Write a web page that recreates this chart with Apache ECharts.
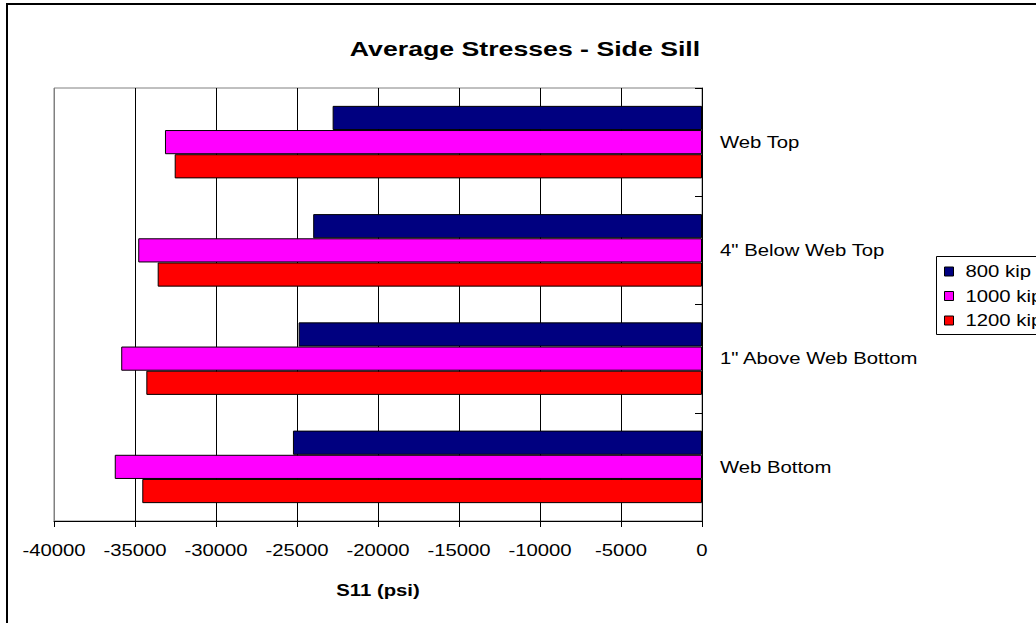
<!DOCTYPE html>
<html>
<head>
<meta charset="utf-8">
<title>Average Stresses - Side Sill</title>
<script src="https://cdn.jsdelivr.net/npm/echarts@6/dist/echarts.min.js"></script>
<style>
  html, body { margin: 0; padding: 0; background: #fff; }
  #chart { width: 1036px; height: 623px; }
</style>
</head>
<body>
<div id="chart"></div>
<script>
// Section locations along the side sill, top to bottom
const categories = ['Web Top', '4" Below Web Top', '1" Above Web Bottom', 'Web Bottom'];

// Average S11 stress (psi) per load case
const seriesNames = ['800 kip', '1000 kip', '1200 kip'];
const load800 = [-22800, -24000, -24900, -25250];
const load1000 = [-33150, -34800, -35850, -36250];
const load1200 = [-32550, -33600, -34300, -34550];

const xTicks = { min: -40000, max: 0, interval: 5000 };

const FONT = 'Arial, "Liberation Sans", Helvetica, sans-serif';
// horizontal widening applied to every text glyph
const TEXT_STRETCH = 1.27;

const colors = ['#000080', '#FF00FF', '#FF0000'];
const values = [load800, load1000, load1200];

const series = seriesNames.map((name, i) => ({
  name,
  type: 'bar',
  data: values[i],
  barGap: '0%',
  barCategoryGap: '33%',
  silent: true,
  itemStyle: { color: colors[i], borderColor: '#000', borderWidth: 1 }
}));

const option = {
  backgroundColor: '#fff',
  animation: false,
  title: {
    text: 'Average Stresses - Side Sill',
    left: 520,
    top: 33,
    textAlign: 'center',
    textStyle: { fontFamily: FONT, fontSize: 21, fontWeight: 'bold', color: '#000' }
  },
  legend: {
    orient: 'vertical',
    left: 944,
    top: 263,
    padding: 0,
    itemWidth: 9,
    itemHeight: 9,
    itemGap: 7.5,
    icon: 'rect',
    selectedMode: false,
    itemStyle: { borderColor: '#000', borderWidth: 1 },
    textStyle: { fontFamily: FONT, fontSize: 16, lineHeight: 17, color: '#000', padding: [0, 0, 0, 7] },
    data: seriesNames
  },
  grid: {
    left: 54,
    right: 334,
    top: 88,
    bottom: 102,
    show: true,
    borderColor: '#808080',
    borderWidth: 1,
    outerBoundsMode: 'none'
  },
  xAxis: {
    type: 'value',
    min: xTicks.min,
    max: xTicks.max,
    interval: xTicks.interval,
    name: 'S11 (psi)',
    nameLocation: 'middle',
    nameGap: 61,
    nameTextStyle: { fontFamily: FONT, fontSize: 16, fontWeight: 'bold', color: '#000' },
    axisLine: { show: true, lineStyle: { color: '#000', width: 1 } },
    axisTick: { show: true, length: 6, lineStyle: { color: '#000' } },
    axisLabel: {
      margin: 21,
      fontFamily: FONT,
      fontSize: 16,
      color: '#000',
      formatter: v => String(v)
    },
    splitLine: {
      show: true,
      lineStyle: { color: ['#808080', '#000', '#000', '#000', '#000', '#000', '#000', '#000', '#000'], width: 1 }
    }
  },
  yAxis: {
    type: 'category',
    data: categories,
    inverse: true,
    position: 'right',
    axisLine: { show: true, onZero: false, lineStyle: { color: '#000', width: 1 } },
    axisTick: { show: true, inside: true, length: 7, lineStyle: { color: '#000' } },
    axisLabel: { margin: 18, fontFamily: FONT, fontSize: 16, color: '#000' },
    splitLine: { show: false }
  },
  graphic: [
    {
      type: 'rect',
      silent: true,
      shape: { x: 7, y: 4, width: 1100, height: 700 },
      style: { fill: 'none', stroke: '#000', lineWidth: 2 }
    },
    {
      type: 'rect',
      silent: true,
      shape: { x: 936.5, y: 256.5, width: 200, height: 78 },
      style: { fill: 'none', stroke: '#000', lineWidth: 1 }
    }
  ],
  series
};

const el = document.getElementById('chart');
const chart = echarts.init(el, null, { renderer: 'svg' });
chart.setOption(option);

// Widen each text element around its own anchor point so alignment is kept
function widenText() {
  el.querySelectorAll('svg text').forEach(t => {
    const cur = t.getAttribute('transform') || '';
    if (t.dataset.widened && cur === t.dataset.widened) return;
    const x = parseFloat(t.getAttribute('x') || '0');
    const y = parseFloat(t.getAttribute('y') || '0');
    const full = `${cur} translate(${x} ${y}) scale(${TEXT_STRETCH} 1) translate(${-x} ${-y})`.trim();
    t.setAttribute('transform', full);
    t.dataset.widened = full;
  });
}
chart.on('finished', widenText);
widenText();
</script>
</body>
</html>
